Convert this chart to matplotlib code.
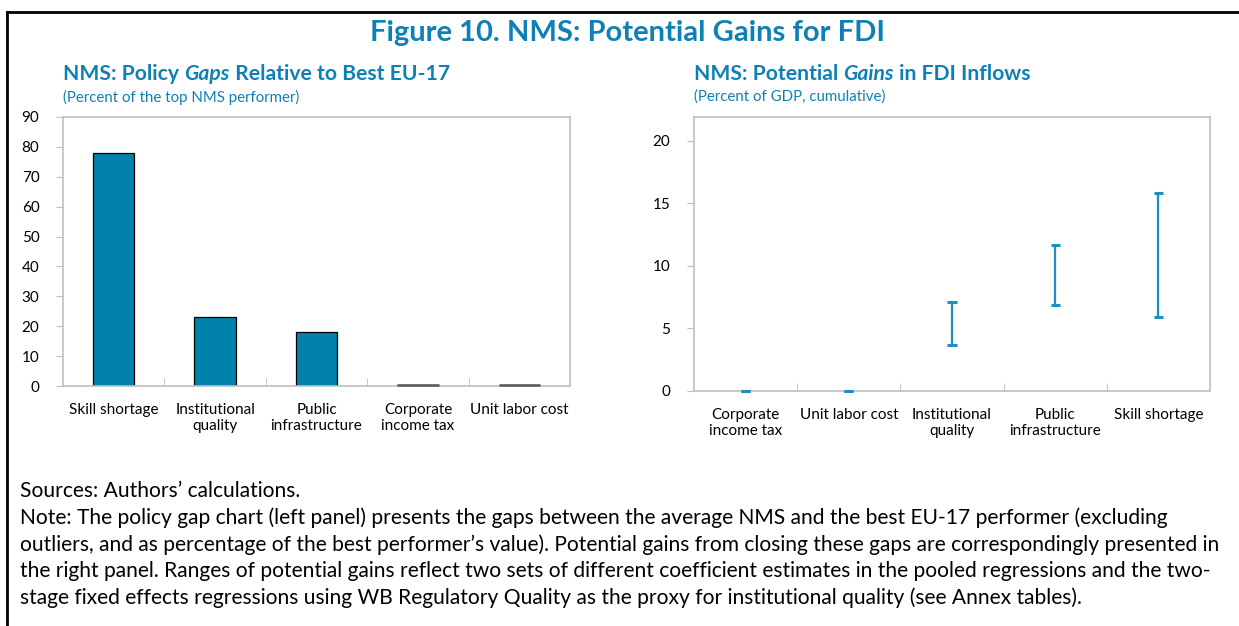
import matplotlib
matplotlib.use("Agg")
import matplotlib.pyplot as plt
from matplotlib.lines import Line2D
import numpy as np

plt.rcParams["font.family"] = ["Lato", "DejaVu Sans"]

# left panel: policy gaps (percent of the top NMS performer)
gap_labels = ["Skill shortage", "Institutional\nquality", "Public\ninfrastructure",
              "Corporate\nincome tax", "Unit labor cost"]
gap_values = [78.0, 23.0, 18.0, 0.3, 0.3]

# right panel: potential gains in FDI inflows (percent of GDP, cumulative)
gain_labels = ["Corporate\nincome tax", "Unit labor cost", "Institutional\nquality",
               "Public\ninfrastructure", "Skill shortage"]
gain_low = [0.0, 0.0, 3.7, 6.9, 5.9]
gain_high = [0.0, 0.0, 7.1, 11.7, 15.8]

note_lines = [
    "Sources: Authors\u2019 calculations.",
    "Note: The policy gap chart (left panel) presents the gaps between the average NMS and the best EU-17 performer (excluding",
    "outliers, and as percentage of the best performer\u2019s value). Potential gains from closing these gaps are correspondingly presented in",
    "the right panel. Ranges of potential gains reflect two sets of different coefficient estimates in the pooled regressions and the two-",
    "stage fixed effects regressions using WB Regulatory Quality as the proxy for institutional quality (see Annex tables).",
]

BLUE = "#0F80B5"
BAR = "#0082AD"
RANGE = "#1B8EC2"
SPINE = "#BFBFBF"

W, H = 1239, 626
fig = plt.figure(figsize=(W / 100, H / 100), dpi=100)


def px(x, y):
    return x / W, 1 - y / H


def rich_text(x, y, parts, **kw):
    """draw a row of text pieces with different styles, left to right"""
    fig.canvas.draw()
    r = fig.canvas.get_renderer()
    cx, cy = px(x, y)
    for s, style in parts:
        t = fig.text(cx, cy, s, fontstyle=style, transform=fig.transFigure, **kw)
        bb = t.get_window_extent(r)
        cx += bb.width / W


# frame around the figure box
fig.add_artist(Line2D([7 / W, 1], [1 - 12 / H] * 2, color="black", lw=2))
fig.add_artist(Line2D([7 / W] * 2, [0, 1 - 12 / H], color="black", lw=2))

fig.text(*px(628, 33), "Figure 10. NMS: Potential Gains for FDI", ha="center", va="center",
         fontsize=21, fontweight="bold", color=BLUE)

sub_kw = dict(fontsize=15.2, fontweight="bold", color=BLUE, va="center", ha="left")
rich_text(63, 74, [("NMS: Policy ", "normal"), ("Gaps", "italic"),
                   (" Relative to Best EU-17", "normal")], **sub_kw)
rich_text(694, 74, [("NMS: Potential ", "normal"), ("Gains", "italic"),
                    (" in FDI Inflows", "normal")], **sub_kw)
fig.text(*px(63, 97), "(Percent of the top NMS performer)", fontsize=10.8, color=BLUE,
         va="center", ha="left")
fig.text(*px(694, 97), "(Percent of GDP, cumulative)", fontsize=10.8, color=BLUE,
         va="center", ha="left")


def style_axes(ax, n):
    for sp in ax.spines.values():
        sp.set_color(SPINE)
        sp.set_linewidth(1.2)
    ax.set_xlim(-0.5, n - 0.5)
    ax.set_xticks(np.arange(n))
    ax.tick_params(axis="x", length=0, labelsize=11, pad=12)
    ax.set_xticks(np.arange(0.5, n - 1, 1), minor=True)
    ax.tick_params(axis="x", which="minor", direction="in", length=6, color=SPINE)
    ax.tick_params(axis="y", direction="out", length=5, color=SPINE, labelsize=11, pad=12)


# left panel
ax1 = fig.add_axes([63 / W, 1 - 386 / H, (570 - 63) / W, (386 - 117) / H])
x1 = np.arange(len(gap_values))
ax1.bar(x1, gap_values, width=0.41, color=BAR, edgecolor="black", linewidth=0.9)
# near-zero bars look like thin grey lines
for xi, v in zip(x1, gap_values):
    if v < 1:
        ax1.plot([xi - 0.205, xi + 0.205], [v, v], color="#595959", lw=1.8,
                 solid_capstyle="butt", clip_on=False, zorder=5)
style_axes(ax1, len(gap_values))
ax1.set_xticklabels(gap_labels)
ax1.set_ylim(0, 90)
ax1.set_yticks(np.arange(0, 91, 10))

# right panel
ax2 = fig.add_axes([694 / W, 1 - 391 / H, (1210 - 694) / W, (391 - 117) / H])
x2 = np.arange(len(gain_low))
low = np.array(gain_low)
high = np.array(gain_high)
ax2.vlines(x2, low, high, color=RANGE, lw=1.6)
ax2.hlines(low, x2 - 0.045, x2 + 0.045, color=RANGE, lw=2.2, clip_on=False, zorder=5)
ax2.hlines(high, x2 - 0.045, x2 + 0.045, color=RANGE, lw=2.2, clip_on=False, zorder=5)
style_axes(ax2, len(gain_low))
ax2.set_xticklabels(gain_labels)
ax2.set_ylim(0, 21.9)
ax2.set_yticks(np.arange(0, 21, 5))

# sources and note
for i, line in enumerate(note_lines):
    fig.text(*px(20, 491 + i * 26.8), line, fontsize=15.1, color="black", va="center", ha="left")

fig.savefig("out.png", dpi=100)
